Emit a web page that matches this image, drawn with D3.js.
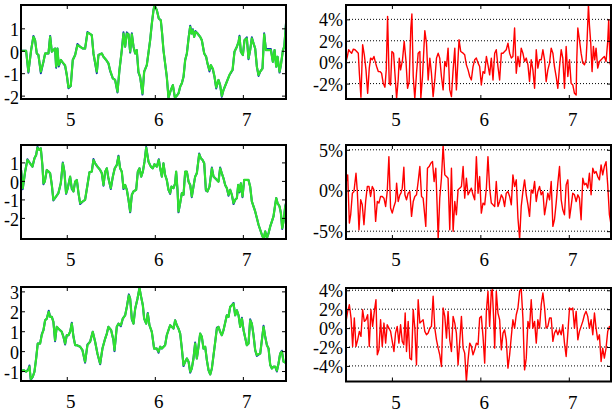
<!DOCTYPE html>
<html><head><meta charset="utf-8">
<script src="https://cdn.jsdelivr.net/npm/d3@7/dist/d3.min.js"></script>
<style>body{margin:0;background:#fff}svg{display:block}</style>
</head><body><svg id="c" width="614" height="414"></svg>
<script>
// ---------- DATA ----------
const xTicks = [5, 6, 7];
const yTicksA = [-2, -1, 0, 1];
const yTicksB = [-2, -1, 0, 1];
const yTicksC = [-1, 0, 1, 2, 3];
const yTicksD = [-2, 0, 2, 4];
const yTicksE = [-5, 0, 5];
const yTicksF = [-4, -2, 0, 2, 4];

const tA = [4.481,4.538,4.564,4.595,4.621,4.640,4.659,4.678,4.705,4.735,4.754,4.792,4.811,4.830,4.848,4.867,4.879,4.894,4.909,4.932,4.947,4.981,5.000,5.019,5.045,5.068,5.095,5.121,5.152,5.182,5.208,5.235,5.258,5.284,5.303,5.341,5.360,5.398,5.417,5.447,5.473,5.492,5.523,5.549,5.576,5.598,5.625,5.644,5.663,5.682,5.701,5.720,5.739,5.758,5.777,5.795,5.814,5.833,5.860,5.879,5.909,5.947,5.966,5.985,5.996,6.023,6.045,6.068,6.083,6.098,6.117,6.136,6.155,6.182,6.205,6.227,6.242,6.269,6.288,6.307,6.326,6.345,6.364,6.386,6.402,6.417,6.432,6.447,6.462,6.485,6.515,6.534,6.561,6.583,6.598,6.621,6.636,6.659,6.678,6.697,6.723,6.742,6.761,6.780,6.818,6.848,6.867,6.883,6.905,6.932,6.951,6.962,6.977,7.000,7.019,7.045,7.064,7.083,7.102,7.121,7.140,7.159,7.178,7.197,7.223,7.242,7.261,7.292,7.318,7.341,7.360,7.379,7.394,7.417,7.432,7.455,7.470,7.492];
const greenA = [0,0,-0.93,0.03,0.62,0.47,-0.12,-0.19,-0.93,-0.49,-0.12,-0.12,0.62,-0.04,0.03,0.10,-0.71,0.10,-0.64,-0.41,-0.49,-0.64,-1.08,-1.63,-1.57,-0.41,-0.19,0.25,0.18,0.10,0.10,0.80,0.77,0.70,-0.12,-0.93,-0.19,-0.12,-0.27,-0.41,-0.56,-0.86,-1.23,-1.30,-1.82,-0.86,0.03,0.77,0.18,0.77,0.74,-0.04,0.73,0.18,-0.12,0.03,-0.93,-1.16,-1.90,-0.93,-0.64,0.47,1.21,1.81,2.03,1.81,1.44,1.36,0.77,0.03,-0.56,-1.16,-2.09,-1.75,-1.53,-2.07,-2.04,-1.90,-1.60,-1.45,-1.16,-0.41,-0.12,0.62,1.07,0.77,0.92,0.62,0.84,0.77,0.62,0.47,-0.12,-0.27,-0.56,-0.86,-0.64,-0.79,-1.16,-1.63,-1.30,-1.53,-2.01,-1.75,-1.38,-1.08,-0.93,-0.86,-0.04,0.18,0.40,0.62,-0.04,-0.19,0.47,0.55,-0.34,0.03,0.55,0.33,0.10,-0.71,-1.08,-0.93,-0.79,0.73,0.03,0.03,0.03,-0.49,0.03,-0.71,-0.27,-0.93,-0.64,0.03,0.18,1.29];
const blueA = [0,0,-0.98,0.03,0.66,0.47,-0.12,-0.19,-1.0,-0.49,-0.12,-0.12,0.66,-0.04,0.03,0.10,-0.76,0.10,-0.70,-0.41,-0.49,-0.68,-1.08,-1.67,-1.57,-0.41,-0.19,0.30,0.18,0.10,0.10,0.84,0.77,0.70,-0.12,-1.0,-0.19,-0.12,-0.27,-0.41,-0.56,-0.90,-1.23,-1.30,-1.86,-0.86,0.03,0.82,0.18,0.82,0.74,-0.08,0.78,0.18,-0.12,0.03,-0.97,-1.16,-1.95,-0.93,-0.64,0.47,1.21,1.81,2.03,1.81,1.44,1.36,0.77,0.03,-0.56,-1.16,-2.09,-1.75,-1.53,-2.07,-2.04,-1.90,-1.60,-1.45,-1.16,-0.41,-0.12,0.66,1.12,0.77,0.96,0.62,0.88,0.77,0.62,0.47,-0.12,-0.27,-0.56,-0.92,-0.64,-0.84,-1.16,-1.68,-1.30,-1.53,-2.05,-1.75,-1.38,-1.08,-0.97,-0.86,-0.04,0.18,0.40,0.67,-0.04,-0.19,0.47,0.60,-0.38,0.03,0.60,0.33,0.10,-0.71,-1.12,-0.93,-0.79,0.78,0.08,0.08,0.08,-0.49,0.03,-0.71,-0.27,-0.97,-0.64,0.03,0.18,1.33];

const tB = [4.481,4.500,4.527,4.553,4.583,4.610,4.633,4.652,4.667,4.689,4.705,4.723,4.735,4.750,4.773,4.795,4.811,4.830,4.848,4.879,4.905,4.932,4.955,4.973,4.992,5.011,5.038,5.057,5.076,5.095,5.114,5.133,5.152,5.182,5.208,5.235,5.258,5.284,5.303,5.322,5.348,5.379,5.398,5.417,5.436,5.455,5.473,5.500,5.523,5.545,5.568,5.587,5.606,5.625,5.644,5.663,5.682,5.701,5.720,5.739,5.758,5.788,5.807,5.826,5.845,5.864,5.883,5.902,5.928,5.955,5.977,5.996,6.023,6.045,6.061,6.080,6.098,6.117,6.136,6.155,6.174,6.189,6.212,6.231,6.242,6.258,6.269,6.288,6.307,6.326,6.345,6.364,6.383,6.402,6.420,6.439,6.458,6.477,6.504,6.523,6.542,6.561,6.580,6.598,6.621,6.648,6.667,6.686,6.705,6.723,6.742,6.761,6.780,6.799,6.818,6.837,6.856,6.875,6.894,6.913,6.932,6.947,6.962,6.977,6.996,7.015,7.038,7.064,7.083,7.102,7.121,7.140,7.159,7.178,7.197,7.216,7.235,7.254,7.273,7.292,7.311,7.330,7.348,7.367,7.379,7.394,7.417,7.432,7.447,7.462,7.481,7.492];
const greenB = [0.59,-0.39,0.50,1.13,0.95,0.77,1.22,1.40,1.80,1.67,1.76,0.86,-0.13,-0.04,0.59,0.50,0.41,-0.22,-1.02,-0.84,-0.66,-0.13,0.95,0.50,-0.66,-0.39,0.23,-0.39,-0.57,-0.04,0.05,-0.66,-1.20,-1.11,-1.02,-0.22,0.47,0.50,1.13,0.95,0.77,0.59,0.41,-0.22,0.50,0.68,0.14,-0.39,0.23,0.68,0.86,1.31,0.68,0.50,-0.39,-0.22,-0.48,-1.02,-1.65,-0.75,-0.57,-0.48,0.50,0.68,0.23,0.50,1.04,1.80,1.04,0.77,0.68,0.90,0.77,1.13,0.68,0.23,0.95,0.32,0.05,-0.48,-0.66,-0.31,-0.39,-0.13,0.50,-0.48,-1.65,-1.20,-0.66,-0.75,0.50,0.50,-0.04,-0.22,-0.84,-0.31,0.23,0.41,1.44,1.22,1.13,0.95,-0.48,-0.57,-0.31,0.68,0.23,0.14,0.05,-0.04,0.68,0.41,0.14,-0.22,-0.39,-0.75,-0.48,-0.75,-1.20,-1.02,-0.93,-0.22,-0.57,-0.13,-0.84,0.05,0.05,0.05,-0.31,-1.11,-1.38,-1.65,-2.01,-2.37,-2.64,-2.91,-3.12,-2.73,-3.09,-2.82,-2.46,-2.19,-1.92,-1.29,-0.93,-1.20,-1.38,-1.74,-2.55,-2.19,-1.38,-1.20];
const blueB = [0.59,-0.45,0.50,1.17,0.95,0.77,1.22,1.40,1.84,1.67,1.76,0.86,-0.18,-0.04,0.59,0.50,0.41,-0.22,-1.06,-0.84,-0.66,-0.13,1.0,0.50,-0.70,-0.39,0.23,-0.44,-0.57,-0.04,0.05,-0.66,-1.25,-1.11,-1.02,-0.22,0.47,0.50,1.18,0.95,0.77,0.59,0.41,-0.26,0.50,0.68,0.14,-0.44,0.23,0.68,0.86,1.36,0.68,0.50,-0.44,-0.22,-0.48,-1.02,-1.70,-0.75,-0.57,-0.48,0.50,0.68,0.23,0.50,1.04,1.84,1.04,0.77,0.68,0.90,0.77,1.17,0.68,0.23,0.95,0.32,0.05,-0.48,-0.70,-0.31,-0.39,-0.13,0.50,-0.52,-1.70,-1.20,-0.66,-0.75,0.50,0.50,-0.04,-0.22,-0.88,-0.31,0.23,0.41,1.48,1.22,1.13,0.95,-0.52,-0.57,-0.31,0.72,0.23,0.14,0.05,-0.04,0.72,0.41,0.14,-0.22,-0.39,-0.80,-0.48,-0.75,-1.25,-1.02,-0.93,-0.22,-0.62,-0.13,-0.88,0.05,0.05,0.05,-0.31,-1.11,-1.38,-1.65,-2.01,-2.37,-2.64,-2.91,-3.12,-2.73,-3.09,-2.82,-2.46,-2.19,-1.92,-1.29,-0.93,-1.20,-1.38,-1.74,-2.60,-2.19,-1.38,-1.15];

const tC = [4.481,4.508,4.538,4.564,4.576,4.591,4.614,4.633,4.652,4.670,4.697,4.716,4.735,4.754,4.773,4.795,4.811,4.830,4.848,4.867,4.886,4.905,4.924,4.943,4.962,4.981,5.000,5.019,5.038,5.057,5.076,5.095,5.114,5.152,5.178,5.208,5.235,5.265,5.295,5.322,5.348,5.379,5.405,5.436,5.455,5.473,5.504,5.530,5.542,5.568,5.587,5.614,5.636,5.663,5.682,5.705,5.720,5.739,5.758,5.777,5.803,5.826,5.841,5.864,5.879,5.902,5.920,5.939,5.966,5.992,6.023,6.042,6.061,6.080,6.117,6.136,6.155,6.174,6.193,6.212,6.231,6.250,6.269,6.288,6.307,6.326,6.345,6.364,6.383,6.402,6.420,6.439,6.458,6.477,6.496,6.515,6.534,6.553,6.572,6.591,6.610,6.629,6.648,6.667,6.686,6.705,6.723,6.742,6.761,6.780,6.818,6.837,6.856,6.875,6.894,6.913,6.932,6.951,6.970,6.989,7.008,7.045,7.064,7.083,7.102,7.121,7.140,7.159,7.197,7.216,7.235,7.254,7.273,7.292,7.311,7.330,7.348,7.367,7.386,7.405,7.424,7.443,7.462,7.481,7.492];
const greenC = [-1.03,-0.95,-1.03,-0.95,-0.78,-1.40,-1.28,-1.03,-0.37,0.38,0.38,0.80,1.05,1.55,1.63,1.97,1.72,1.72,1.47,0.55,1.22,1.13,1.05,0.97,0.72,0.38,0.80,0.80,0.97,1.38,0.72,0.30,0.30,0.22,0.05,-0.53,0.30,0.47,0.97,0.47,-0.12,-0.62,0.13,0.63,0.88,1.22,1.05,0.55,0.05,1.22,1.38,1.30,1.63,1.80,2.22,2.80,2.63,1.63,1.38,2.13,2.63,3.17,2.80,2.30,1.63,1.38,1.88,1.30,0.97,0.13,0.13,-0.03,0.22,0.13,0.30,0.80,1.05,1.30,1.22,1.13,1.55,1.30,1.13,0.88,0.13,-0.70,-0.53,-0.37,-0.53,-1.03,-0.87,-0.37,0.38,-0.37,0.22,0.88,0.72,0.13,0.22,-0.45,-0.95,-1.17,-0.87,-0.20,0.47,1.13,1.22,0.97,0.80,1.05,1.80,1.72,2.22,2.30,2.38,1.80,2.05,1.80,1.22,1.63,1.05,0.30,0.38,1.55,1.38,0.80,0.05,-0.20,-0.12,0.55,1.22,0.72,0.30,0.13,-0.70,-0.87,-0.78,-0.78,-0.98,-0.62,-0.12,-0.03,-0.53,-0.57,-0.50];
const blueC = [-1.03,-0.95,-1.03,-0.90,-0.72,-1.45,-1.28,-1.03,-0.37,0.38,0.38,0.85,1.05,1.55,1.63,2.03,1.72,1.72,1.47,0.50,1.22,1.13,1.05,0.97,0.72,0.33,0.80,0.80,0.97,1.43,0.72,0.30,0.30,0.22,0.05,-0.58,0.34,0.47,0.97,0.47,-0.12,-0.66,0.13,0.63,0.88,1.22,1.05,0.55,0.0,1.22,1.38,1.25,1.63,1.80,2.22,2.85,2.63,1.58,1.38,2.13,2.63,3.17,2.80,2.30,1.63,1.38,1.92,1.30,0.97,0.13,0.13,-0.08,0.22,0.13,0.30,0.80,1.05,1.30,1.22,1.13,1.55,1.30,1.13,0.88,0.13,-0.75,-0.53,-0.37,-0.53,-1.08,-0.87,-0.37,0.43,-0.37,0.22,0.88,0.72,0.13,0.22,-0.45,-0.95,-1.17,-0.87,-0.20,0.47,1.18,1.22,0.97,0.80,1.05,1.80,1.72,2.22,2.30,2.42,1.80,2.05,1.80,1.22,1.68,1.05,0.30,0.38,1.60,1.38,0.80,0.05,-0.24,-0.12,0.55,1.27,0.72,0.30,0.13,-0.70,-0.87,-0.78,-0.78,-1.02,-0.62,-0.12,0.02,-0.53,-0.57,-0.50];

const tD = [4.481,4.496,4.511,4.526,4.545,4.564,4.583,4.602,4.620,4.632,4.650,4.669,4.688,4.707,4.726,4.744,4.759,4.778,4.797,4.816,4.827,4.846,4.865,4.883,4.902,4.921,4.936,4.951,4.970,4.985,5.000,5.019,5.034,5.053,5.071,5.083,5.098,5.120,5.139,5.158,5.177,5.195,5.214,5.226,5.241,5.259,5.278,5.297,5.316,5.327,5.346,5.361,5.372,5.391,5.410,5.429,5.447,5.466,5.485,5.504,5.523,5.541,5.560,5.579,5.598,5.617,5.635,5.654,5.673,5.692,5.711,5.729,5.748,5.759,5.778,5.805,5.823,5.842,5.861,5.880,5.898,5.917,5.936,5.955,5.974,5.992,6.011,6.030,6.049,6.068,6.086,6.105,6.124,6.143,6.162,6.180,6.199,6.218,6.237,6.256,6.274,6.293,6.312,6.331,6.350,6.368,6.387,6.406,6.425,6.444,6.462,6.481,6.500,6.519,6.538,6.556,6.575,6.594,6.613,6.632,6.650,6.669,6.688,6.707,6.726,6.744,6.763,6.782,6.801,6.820,6.838,6.857,6.876,6.895,6.914,6.932,6.951,6.970,6.989,7.008,7.026,7.045,7.064,7.083,7.090,7.102,7.120,7.139,7.158,7.177,7.195,7.207,7.222,7.233,7.248,7.263,7.278,7.293,7.308,7.327,7.346,7.365,7.383,7.402,7.421,7.440,7.451,7.466,7.477];
const retD = [0.06,0.53,1.16,1.00,0.84,1.22,1.16,1.00,0.84,-1.03,-3.28,1.63,0.69,-0.72,-2.91,-0.56,0.38,0.22,0.53,-0.09,-0.41,-0.88,-0.88,-1.03,-1.97,-2.34,-0.72,4.28,-1.97,-2.13,1.00,0.84,-1.03,-3.38,-1.66,0.38,-0.72,0.22,1.94,0.22,-2.44,-1.81,3.19,4.50,-1.34,-3.42,-1.03,0.84,1.00,-3.38,-1.34,1.16,2.94,1.78,-1.66,0.38,-1.03,-3.22,-1.66,0.38,0.84,0.38,-1.34,-2.59,0.06,-0.41,1.31,-2.59,-3.22,-0.72,1.31,-2.59,0.38,2.09,1.00,0.84,0.69,-0.25,-0.72,-1.34,-1.66,-0.41,0.22,0.38,-0.09,-0.41,-2.13,-0.88,-1.03,0.53,-0.25,-1.19,0.38,-1.66,0.84,1.16,-0.41,-1.66,0.84,0.84,1.00,1.16,1.78,0.84,0.38,0.53,3.19,-1.03,0.53,-0.41,1.31,0.84,0.06,0.38,-0.25,-1.81,0.22,-0.72,-2.44,1.16,-0.56,0.22,0.22,1.16,0.22,-1.81,-0.72,-0.09,1.31,0.84,-0.41,-1.34,-2.44,-0.41,1.16,0.38,-2.44,1.47,-1.34,0.22,-1.97,-2.13,-2.91,-3.06,0.22,3.19,2.09,0.84,-0.09,-0.25,0.22,2.09,5.34,3.50,1.78,-0.88,1.47,0.22,1.31,-0.56,0.06,0.22,0.38,0.53,0.06,1.94,3.97,-0.09,-0.41];

const tE = [4.481,4.500,4.519,4.534,4.553,4.571,4.594,4.609,4.628,4.647,4.665,4.684,4.703,4.722,4.741,4.759,4.778,4.797,4.816,4.835,4.853,4.872,4.891,4.910,4.929,4.947,4.966,4.985,5.004,5.023,5.041,5.053,5.071,5.090,5.102,5.117,5.135,5.147,5.165,5.184,5.203,5.222,5.241,5.259,5.278,5.297,5.316,5.335,5.353,5.383,5.402,5.421,5.440,5.459,5.477,5.496,5.511,5.523,5.541,5.560,5.579,5.598,5.617,5.635,5.654,5.673,5.692,5.711,5.729,5.748,5.767,5.786,5.805,5.823,5.842,5.861,5.880,5.898,5.917,5.936,5.955,5.974,5.992,6.011,6.030,6.049,6.068,6.086,6.105,6.124,6.143,6.162,6.180,6.199,6.218,6.237,6.256,6.274,6.293,6.312,6.331,6.350,6.368,6.387,6.406,6.425,6.444,6.462,6.481,6.500,6.519,6.538,6.556,6.575,6.594,6.613,6.632,6.650,6.669,6.688,6.707,6.726,6.744,6.763,6.782,6.801,6.820,6.838,6.857,6.876,6.895,6.914,6.932,6.951,6.970,6.989,7.008,7.026,7.045,7.064,7.083,7.102,7.120,7.139,7.158,7.177,7.195,7.214,7.233,7.252,7.271,7.290,7.308,7.327,7.346,7.365,7.383,7.402,7.421,7.440,7.459,7.477];
const retE = [0.90,1.92,-4.00,-2.98,-0.33,-0.12,2.12,-0.12,-4.82,-1.14,-1.76,-4.20,-1.35,0.49,0.49,-0.73,0.49,0.08,-3.80,-1.35,-1.55,-0.73,-0.73,-0.94,-1.96,-0.12,4.16,-2.16,-2.78,-1.96,-1.35,0.90,-1.35,-0.53,-0.33,0.29,2.86,-0.53,-1.14,-0.33,-0.12,-3.18,-1.35,-0.73,-0.53,1.10,2.94,-0.73,-0.94,-4.41,2.73,2.94,3.35,3.55,1.10,2.73,-1.76,-5.95,-0.94,1.51,5.55,1.92,1.71,1.51,-4.82,2.73,-5.02,-1.35,-2.98,0.08,0.29,0.49,2.94,-0.94,1.51,-0.53,-0.12,0.29,-0.53,-1.14,4.16,-0.33,1.71,-2.78,-1.55,-1.76,0.29,4.16,0.29,-1.55,-1.76,-1.96,1.10,-1.96,-1.35,-0.53,-0.94,-1.96,-0.33,-0.12,-0.73,-1.76,1.92,0.49,1.31,-3.39,-5.95,-1.96,-0.12,1.31,-0.53,-1.76,-3.18,0.08,-0.33,1.10,-1.35,-0.12,0.49,-0.53,-0.12,-2.98,-1.76,-0.33,-1.14,1.10,-4.41,-3.59,-1.55,0.90,2.94,-1.14,-2.37,-2.98,0.69,1.31,-3.39,-1.96,-0.33,-0.53,-1.35,-0.53,-0.94,-3.59,1.51,0.69,0.90,0.29,2.12,-0.53,2.73,2.12,2.33,1.71,1.31,3.14,1.92,2.94,3.55,0.69,-2.98,-4.20];

const tF = [4.481,4.500,4.519,4.538,4.556,4.575,4.594,4.613,4.632,4.650,4.669,4.688,4.707,4.726,4.744,4.763,4.782,4.801,4.820,4.835,4.853,4.872,4.891,4.910,4.929,4.947,4.966,4.985,5.004,5.023,5.041,5.060,5.079,5.098,5.117,5.135,5.150,5.165,5.184,5.203,5.222,5.241,5.259,5.278,5.297,5.316,5.335,5.353,5.372,5.391,5.410,5.429,5.447,5.466,5.485,5.504,5.523,5.541,5.560,5.579,5.598,5.617,5.635,5.654,5.673,5.692,5.711,5.729,5.748,5.767,5.786,5.805,5.823,5.842,5.861,5.880,5.898,5.917,5.936,5.955,5.974,5.992,6.011,6.030,6.049,6.068,6.086,6.105,6.124,6.135,6.150,6.162,6.180,6.199,6.218,6.237,6.256,6.274,6.293,6.312,6.331,6.350,6.368,6.387,6.406,6.425,6.444,6.462,6.481,6.500,6.519,6.538,6.556,6.575,6.594,6.613,6.632,6.650,6.669,6.688,6.707,6.726,6.744,6.763,6.782,6.801,6.820,6.838,6.857,6.876,6.895,6.914,6.932,6.951,6.970,6.989,7.008,7.026,7.045,7.064,7.083,7.102,7.120,7.139,7.158,7.177,7.195,7.214,7.233,7.252,7.271,7.290,7.308,7.327,7.346,7.365,7.383,7.402,7.421,7.440,7.459,7.477];
const retF = [0.71,1.77,2.47,1.06,-1.94,1.06,-1.94,-1.24,-0.35,-0.88,1.94,0.71,0.88,1.41,-1.94,1.94,0.18,1.77,3.00,-2.83,-2.30,0.88,-1.94,0.53,-1.59,0.35,0.00,-0.35,-1.41,-2.47,-0.53,0.18,-1.59,0.35,-1.41,-1.77,1.59,-2.47,0.71,-3.18,-3.36,1.94,0.00,-3.89,3.00,0.53,0.71,0.88,-0.35,-0.71,-0.53,0.00,0.18,3.36,0.00,-1.24,-2.12,-2.83,-4.06,2.12,1.24,-1.06,1.77,-1.24,-2.47,1.24,0.53,-0.53,-3.89,-1.41,1.24,-2.12,-2.65,-5.65,-3.36,-1.59,-1.94,-2.83,-2.30,-1.59,-1.77,1.06,1.24,-0.88,-3.71,1.77,3.89,0.18,3.89,4.06,1.06,-2.12,3.89,1.59,0.88,-2.30,-0.53,-0.18,-1.24,-4.24,-2.83,-0.88,0.88,0.00,1.41,2.12,3.89,4.20,1.06,-4.42,-3.18,0.71,0.00,3.00,0.00,0.71,-1.59,0.88,0.00,2.47,3.71,2.12,0.00,0.18,1.06,1.06,-1.41,-0.53,-0.18,-0.71,-0.18,-0.71,0.35,-1.59,-3.00,-0.53,2.12,1.94,2.12,0.00,1.77,-1.24,-0.35,0.18,0.71,1.41,1.77,1.24,0.00,0.88,-0.71,1.59,0.00,-1.24,-0.71,-3.53,-2.12,-3.18,-2.12,-0.35,0.18,-0.35];

// ---------- STYLE / LAYOUT ----------
const FONT = "'Liberation Serif', 'DejaVu Serif', 'Noto Serif', Times, serif";
const GREEN = '#2fe02f', BLUE = '#1030b0', RED = '#ff0000';
const L = {l: 21, r: 286}, R = {l: 346, r: 611};
const rows = [{t: 5, b: 99}, {t: 145, b: 239}, {t: 287, b: 381}];

const panels = [
  {box: L, row: rows[0], xd: [4.48, 7.49], yd: [-2.15, 2.04], yt: yTicksA, pct: false,
   lines: [{t: tA, y: blueA, c: BLUE, w: 2}, {t: tA, y: greenA, c: GREEN, w: 2.2}]},
  {box: L, row: rows[1], xd: [4.48, 7.49], yd: [-3.14, 1.94], yt: yTicksB, pct: false,
   lines: [{t: tB, y: blueB, c: BLUE, w: 2}, {t: tB, y: greenB, c: GREEN, w: 2.2}]},
  {box: L, row: rows[2], xd: [4.48, 7.49], yd: [-1.5, 3.22], yt: yTicksC, pct: false,
   lines: [{t: tC, y: blueC, c: BLUE, w: 2}, {t: tC, y: greenC, c: GREEN, w: 2.2}]},
  {box: R, row: rows[0], xd: [4.481, 7.477], yd: [-3.44, 5.34], yt: yTicksD, pct: true,
   lines: [{t: tD, y: retD, c: RED, w: 1.4}]},
  {box: R, row: rows[1], xd: [4.481, 7.477], yd: [-5.96, 5.59], yt: yTicksE, pct: true,
   lines: [{t: tE, y: retE, c: RED, w: 1.4}]},
  {box: R, row: {t: 288, b: 381.5}, xd: [4.481, 7.477], yd: [-5.65, 4.24], yt: yTicksF, pct: true,
   lines: [{t: tF, y: retF, c: RED, w: 1.4}]}
];

const svg = d3.select('#c');
svg.append('rect').attr('width', 614).attr('height', 414).attr('fill', '#fff');

panels.forEach((p, i) => {
  const x = d3.scaleLinear().domain(p.xd).range([p.box.l, p.box.r]);
  const y = d3.scaleLinear().domain(p.yd).range([p.row.b, p.row.t]);
  const g = svg.append('g');
  const cid = 'clip' + i;
  g.append('clipPath').attr('id', cid).append('rect')
    .attr('x', p.box.l).attr('y', p.row.t)
    .attr('width', p.box.r - p.box.l).attr('height', p.row.b - p.row.t);

  if (p.pct) {
    g.append('g').selectAll('line').data(p.yt).join('line')
      .attr('x1', p.box.l).attr('x2', p.box.r)
      .attr('y1', d => y(d)).attr('y2', d => y(d))
      .attr('stroke', '#000').attr('stroke-width', 1).attr('stroke-dasharray', '1,2');
  }

  const lg = g.append('g').attr('clip-path', `url(#${cid})`);
  p.lines.forEach(s => {
    const pts = s.t.map((t, k) => [t, s.y[k]]);
    lg.append('path').datum(pts)
      .attr('fill', 'none').attr('stroke', s.c).attr('stroke-width', s.w)
      .attr('stroke-linejoin', 'round')
      .attr('d', d3.line().x(d => x(d[0])).y(d => y(d[1])));
  });

  const strip = a => a.call(s => s.select('.domain').remove());
  g.append('g').attr('transform', `translate(0,${p.row.b})`)
    .call(d3.axisBottom(x).tickValues(xTicks).tickSize(-4).tickFormat('')).call(strip);
  g.append('g').attr('transform', `translate(0,${p.row.t})`)
    .call(d3.axisTop(x).tickValues(xTicks).tickSize(-4).tickFormat('')).call(strip);
  g.append('g').attr('transform', `translate(${p.box.l},0)`)
    .call(d3.axisLeft(y).tickValues(p.yt).tickSize(-4).tickFormat('')).call(strip);
  g.append('g').attr('transform', `translate(${p.box.r},0)`)
    .call(d3.axisRight(y).tickValues(p.yt).tickSize(-4).tickFormat('')).call(strip);
  g.selectAll('.tick line').attr('stroke', '#000').attr('stroke-width', 1);

  g.append('rect').attr('x', p.box.l).attr('y', p.row.t)
    .attr('width', p.box.r - p.box.l).attr('height', p.row.b - p.row.t)
    .attr('fill', 'none').attr('stroke', '#000').attr('stroke-width', 2);

  g.append('g').selectAll('text').data(xTicks).join('text')
    .attr('x', d => x(d) + 4).attr('y', p.row.b + 27)
    .attr('text-anchor', 'middle').attr('font-family', FONT).attr('font-size', 19)
    .attr('fill', '#000').text(d => String(d));
  g.append('g').selectAll('text').data(p.yt).join('text')
    .attr('x', p.box.l - (p.pct ? 3 : 2)).attr('y', d => y(d) + (p.pct ? 7 : 8))
    .attr('text-anchor', 'end').attr('font-family', FONT).attr('font-size', 18)
    .attr('fill', '#000').text(d => p.pct ? d + '%' : String(d));
});
</script>
</body></html>
